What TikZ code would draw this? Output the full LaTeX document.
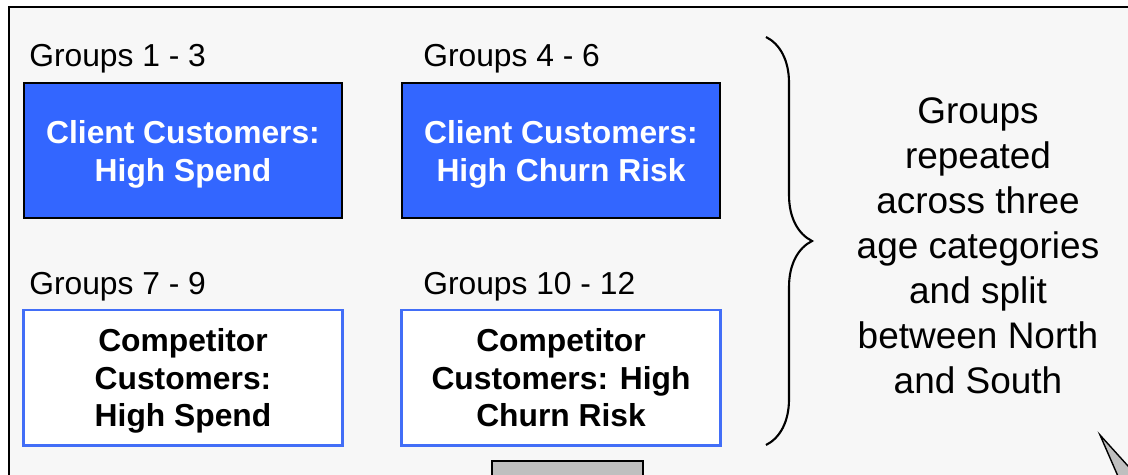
\documentclass[tikz,border=0pt]{standalone}
\usepackage{fontspec}
\setmainfont{Liberation Sans}
\usetikzlibrary{decorations.pathreplacing}
\definecolor{bgCol}{rgb}{0.969, 0.969, 0.969}
\definecolor{clCol}{rgb}{0.2, 0.4, 1}
\definecolor{cpCol}{rgb}{0.26, 0.43, 0.97}
\definecolor{gyCol}{rgb}{0.75, 0.75, 0.75}

\begin{document}
\begin{tikzpicture}[x=0.025cm, y=-0.025cm,
    grplabel/.style={anchor=base west, inner sep=0pt, font=\fontsize{22.6}{27}\selectfont},
    clientbox/.style={draw=black, line width=1.5pt, fill=clCol, text=white,
      minimum width=7.95cm, minimum height=3.375cm, align=center,
      text depth=0pt,
      font=\fontsize{22.6}{27}\selectfont\bfseries},
    compbox/.style={draw=cpCol, line width=2.1pt, fill=white, text=black,
      minimum width=7.95cm, minimum height=3.375cm, align=center,
      text depth=0pt,
      font=\fontsize{22.6}{27}\selectfont\bfseries}]
%      \draw [help lines] (0, 0) grid (1128, 474);
      \clip (0,0) rectangle (1128,474);
      \fill [white] (0,0) rectangle (1128,474);
      \draw [line width=2pt, fill=bgCol] (9,7) rectangle (1160,520);

      % the four groups
      \node [clientbox] (hispend) at (183,150.5) {Client Customers:\\High Spend};
      \node [clientbox] (hichurn) at (561,150.5) {Client Customers:\\High Churn Risk};
      \node [compbox] (cphispend) at (183,377.5) {Competitor\\Customers:\\High Spend};
      \node [compbox] (cphichurn) at (561,377.5) {Competitor\\Customers: High\\Churn Risk};

      \node [grplabel] (lbla) at (29,66) {Groups 1 - 3};
      \node [grplabel] (lblb) at (423,66) {Groups 4 - 6};
      \node [grplabel] (lblc) at (29,294) {Groups 7 - 9};
      \node [grplabel] (lbld) at (423,294) {Groups 10 - 12};

      %% brace and the note beside it
      \coordinate (bracetop) at (766,37);
      \coordinate (bracebot) at (766,445);
      \draw [line width=1.5pt, decorate, decoration={brace, amplitude=1.15cm}]
        (bracetop) -- (bracebot);
      \node [align=center, font=\fontsize{26.3}{32}\selectfont] (note) at (978,246)
        {Groups\\repeated\\across three\\age categories\\and split\\between North\\and South};

      %% bits cut off at the bottom
      \draw [line width=1.5pt, fill=gyCol] (492,461) rectangle (643,520);
      \draw [line width=1pt, fill=gyCol] (1100,435) -- (1134,513) -- (1156,497) -- cycle;
    \end{tikzpicture}
\end{document}
